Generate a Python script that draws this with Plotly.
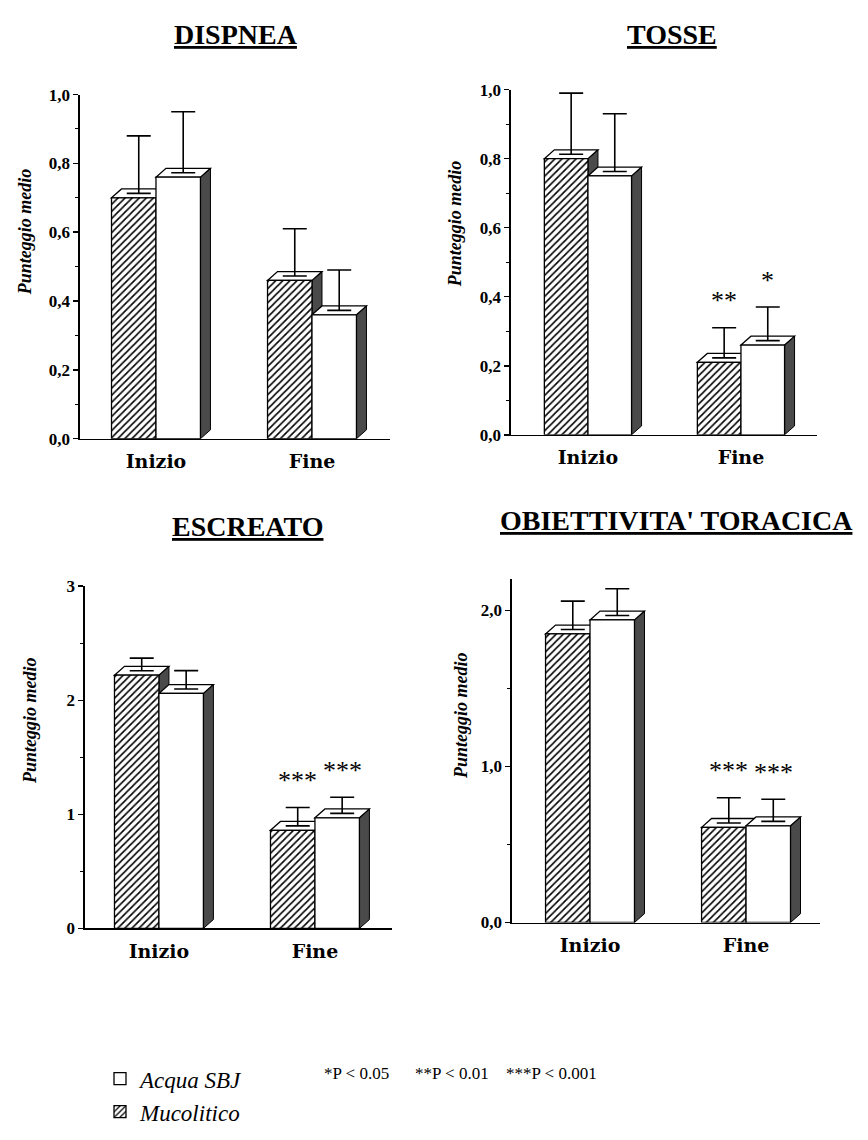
import plotly.graph_objects as go

# ---------------- data ----------------
categories = ["Inizio", "Fine"]
panel_titles = ["DISPNEA", "TOSSE", "ESCREATO", "OBIETTIVITA' TORACICA"]
series_names = ["Acqua SBJ", "Mucolitico"]
y_title = "Punteggio medio"

# Mucolitico (hatched) and Acqua SBJ (white): mean scores and SD (upper error bar)
dispnea_muc = [0.70, 0.46]
dispnea_muc_sd = [0.18, 0.15]
dispnea_acq = [0.76, 0.36]
dispnea_acq_sd = [0.19, 0.13]

tosse_muc = [0.80, 0.21]
tosse_muc_sd = [0.19, 0.10]
tosse_acq = [0.75, 0.26]
tosse_acq_sd = [0.18, 0.11]

escreato_muc = [2.22, 0.86]
escreato_muc_sd = [0.15, 0.20]
escreato_acq = [2.06, 0.97]
escreato_acq_sd = [0.20, 0.18]

torace_muc = [1.85, 0.61]
torace_muc_sd = [0.21, 0.19]
torace_acq = [1.94, 0.62]
torace_acq_sd = [0.20, 0.17]

# significance stars per bar ([Inizio, Fine])
dispnea_muc_stars = ["", ""]
dispnea_acq_stars = ["", ""]
tosse_muc_stars = ["", "**"]
tosse_acq_stars = ["", "*"]
escreato_muc_stars = ["", "***"]
escreato_acq_stars = ["", "***"]
torace_muc_stars = ["", "***"]
torace_acq_stars = ["", "***"]

# y tick values / labels
dec_ticks = [0, 0.2, 0.4, 0.6, 0.8, 1.0]
dec_labels = ["0,0", "0,2", "0,4", "0,6", "0,8", "1,0"]
escreato_ticks = [0, 1, 2, 3]
escreato_labels = ["0", "1", "2", "3"]
torace_ticks = [0, 1, 2]
torace_labels = ["0,0", "1,0", "2,0"]

p_labels = ["*P < 0.05", "**P < 0.01", "***P < 0.001"]

# ---------------- layout settings ----------------
W, H = 868, 1140
SERIF = "Liberation Serif"
BOLD_SERIF = "DejaVu Serif"
BAR_W = 0.285
DEPTH_X_PX = 10
DEPTH_Y_PX = 9
SIDE_COLOR = "#4a4a4a"


def px_x(p):
    return p / W


def px_y(p):
    return 1 - p / H


panels = [
    dict(data=(dispnea_muc, dispnea_muc_sd, dispnea_acq, dispnea_acq_sd,
               dispnea_muc_stars, dispnea_acq_stars),
         ticks=(dec_ticks, dec_labels), ymax=1.0, minor=0.1,
         xdom=(80, 390), ydom=(437, 87), xr=(-0.487, 1.5),
         title_xy=(236, 26), ytitle_xy=(25, 227)),
    dict(data=(tosse_muc, tosse_muc_sd, tosse_acq, tosse_acq_sd,
               tosse_muc_stars, tosse_acq_stars),
         ticks=(dec_ticks, dec_labels), ymax=1.0, minor=0.1,
         xdom=(511, 817), ydom=(433, 82), xr=(-0.503, 1.497),
         title_xy=(672, 26), ytitle_xy=(455, 219)),
    dict(data=(escreato_muc, escreato_muc_sd, escreato_acq, escreato_acq_sd,
               escreato_muc_stars, escreato_acq_stars),
         ticks=(escreato_ticks, escreato_labels), ymax=3.0, minor=0.5,
         xdom=(85, 392), ydom=(935, 587), xr=(-0.474, 1.494),
         title_xy=(247, 526), ytitle_xy=(30, 724)),
    dict(data=(torace_muc, torace_muc_sd, torace_acq, torace_acq_sd,
               torace_muc_stars, torace_acq_stars),
         ticks=(torace_ticks, torace_labels), ymax=2.2, minor=0.5,
         xdom=(512, 820), ydom=(929, 580), xr=(-0.5, 1.474),
         title_xy=(676, 520), ytitle_xy=(461, 719)),
]

fig = go.Figure()
shapes = []
annotations = []
layout_axes = {}

for i, p in enumerate(panels):
    sfx = "" if i == 0 else str(i + 1)
    xa, ya = "x" + sfx, "y" + sfx
    muc, muc_sd, acq, acq_sd, muc_st, acq_st = p["data"]
    xr = p["xr"]
    ymax = p["ymax"]
    plot_w = p["xdom"][1] - p["xdom"][0]
    plot_h = p["ydom"][0] - p["ydom"][1]
    dx = DEPTH_X_PX * (xr[1] - xr[0]) / plot_w
    dy = DEPTH_Y_PX * ymax / plot_h
    cat_pos = list(range(len(categories)))

    series = [
        ("Mucolitico", muc, muc_sd, muc_st, -BAR_W / 2, True, 2),
        ("Acqua SBJ", acq, acq_sd, acq_st, BAR_W / 2, False, 1),
    ]
    for name, vals, sds, stars, off, hatched, rank in series:
        xs = [c + off for c in cat_pos]
        marker = dict(color="white", line=dict(color="black", width=1.3))
        if hatched:
            marker["pattern"] = dict(shape="/", fgcolor="black", bgcolor="white",
                                     size=5, solidity=0.32, fillmode="replace")
        fig.add_trace(go.Bar(
            x=xs, y=vals, width=BAR_W, marker=marker,
            name="<i>" + name + "</i>", legendrank=rank,
            showlegend=(i == 0), xaxis=xa, yaxis=ya, hoverinfo="skip"))
        # 3D faces
        for x, v in zip(xs, vals):
            xl, xrt = x - BAR_W / 2, x + BAR_W / 2
            side = (f"M {xrt},0 L {xrt + dx},{dy} L {xrt + dx},{v + dy} "
                    f"L {xrt},{v} Z")
            top = (f"M {xl},{v} L {xl + dx},{v + dy} L {xrt + dx},{v + dy} "
                   f"L {xrt},{v} Z")
            shapes.append(dict(type="path", path=side, xref=xa, yref=ya,
                               fillcolor=SIDE_COLOR, line=dict(color="black", width=1),
                               layer="below"))
            shapes.append(dict(type="path", path=top, xref=xa, yref=ya,
                               fillcolor="white", line=dict(color="black", width=1.3),
                               layer="below"))
        # error bars (upper only), centred on the top face
        ex = [x + dx / 2 for x in xs]
        ey = [v + dy / 2 for v in vals]
        fig.add_trace(go.Scatter(
            x=ex, y=ey, mode="markers",
            marker=dict(size=1, color="rgba(0,0,0,0)"),
            error_y=dict(type="data", symmetric=False,
                         array=[s - dy / 2 for s in sds],
                         arrayminus=[0] * len(sds),
                         width=12, thickness=1.6, color="black"),
            showlegend=False, xaxis=xa, yaxis=ya, hoverinfo="skip"))
        for x, v, s, st in zip(ex, vals, sds, stars):
            if st:
                annotations.append(dict(
                    x=x, y=v + s, xref=xa, yref=ya, text=st, showarrow=False,
                    yanchor="middle", yshift=27,
                    font=dict(family=SERIF, size=26, color="black")))

    tv, tt = p["ticks"]
    layout_axes["xaxis" + sfx] = dict(
        domain=[px_x(p["xdom"][0]), px_x(p["xdom"][1])], range=list(xr),
        anchor=ya, showline=True, linecolor="black", linewidth=1.6,
        showgrid=False, zeroline=False, ticks="",
        tickvals=cat_pos, ticktext=categories, ticklabelstandoff=5,
        tickfont=dict(family=BOLD_SERIF, size=19, color="black", weight="bold"),
        fixedrange=True)
    layout_axes["yaxis" + sfx] = dict(
        domain=[px_y(p["ydom"][0]), px_y(p["ydom"][1])], range=[0, ymax],
        anchor=xa, showline=True, linecolor="black", linewidth=1.6,
        showgrid=False, zeroline=False, ticks="outside", ticklen=5,
        tickwidth=1.5, tickcolor="black",
        tickvals=tv, ticktext=tt,
        minor=dict(ticks="outside", ticklen=3, tickwidth=1, tickcolor="black",
                   dtick=p["minor"], showgrid=False),
        tickfont=dict(family=SERIF, size=17, color="black", weight="bold"),
        fixedrange=True)

    annotations.append(dict(
        x=px_x(p["title_xy"][0]), y=px_y(p["title_xy"][1]), xref="paper", yref="paper",
        text="<u>" + panel_titles[i] + "</u>", showarrow=False,
        xanchor="center", yanchor="middle",
        font=dict(family=SERIF, size=28, color="black", weight="bold")))
    annotations.append(dict(
        x=px_x(p["ytitle_xy"][0]), y=px_y(p["ytitle_xy"][1]), xref="paper", yref="paper",
        text="<b><i>" + y_title + "</i></b>", showarrow=False, textangle=-90,
        xanchor="center", yanchor="middle",
        font=dict(family=SERIF, size=18, color="black")))

for txt, cx in zip(p_labels, [356, 452, 551]):
    annotations.append(dict(
        x=px_x(cx), y=px_y(1083), xref="paper", yref="paper", text=txt,
        showarrow=False, xanchor="center", yanchor="middle",
        font=dict(family=SERIF, size=17, color="black")))

fig.update_layout(
    width=W, height=H, autosize=False,
    margin=dict(l=0, r=0, t=0, b=0),
    paper_bgcolor="white", plot_bgcolor="white",
    barmode="overlay",
    shapes=shapes, annotations=annotations,
    legend=dict(x=px_x(100), y=px_y(1066), xanchor="left", yanchor="top",
                font=dict(family=SERIF, size=23, color="black"),
                bgcolor="rgba(0,0,0,0)", traceorder="normal"),
    **layout_axes,
)

fig.write_html(
    "out.html",
    config={"displayModeBar": False, "staticPlot": True},
    post_script=("document.documentElement.style.margin='0';"
                 "document.body.style.margin='0';"
                 "document.body.style.padding='0';"
                 "document.documentElement.style.overflow='hidden';"),
)
